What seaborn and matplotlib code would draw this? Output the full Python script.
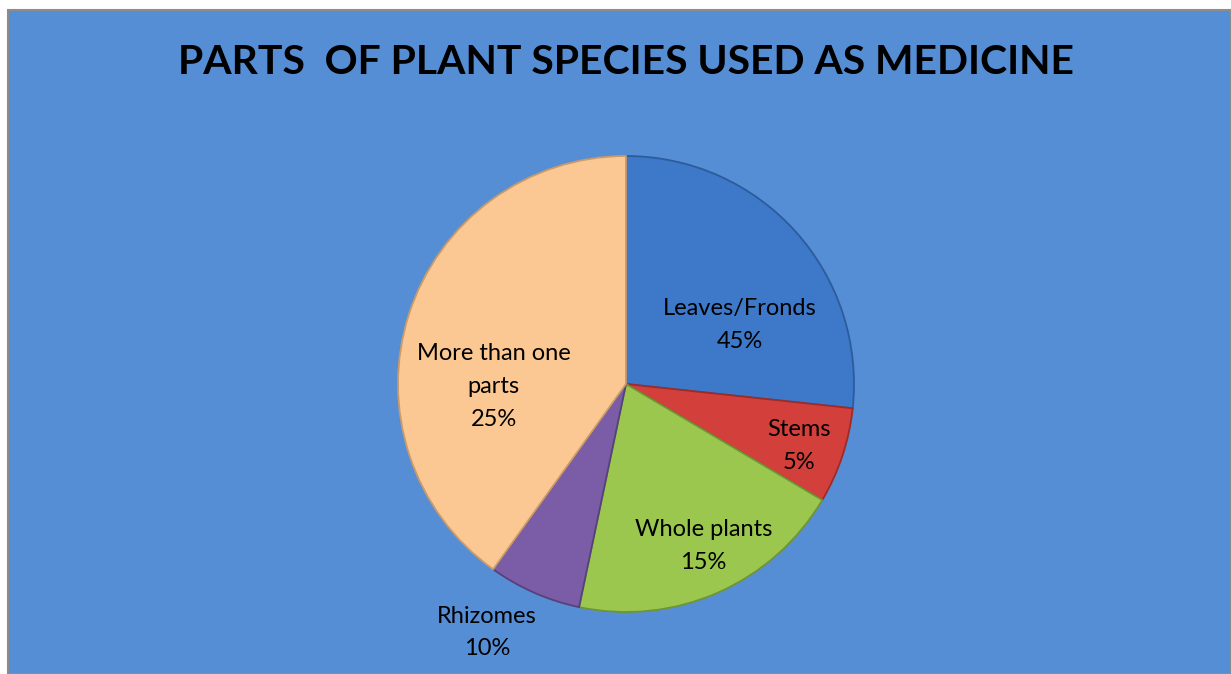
import matplotlib
matplotlib.use('Agg')
import matplotlib.pyplot as plt
import seaborn as sns
from matplotlib.patches import Rectangle

# Slice sizes as drawn in the picture (angles)
parts = ['Leaves/Fronds', 'Stems', 'Whole plants', 'Rhizomes', 'More than one\nparts']
slice_share = [26.7, 6.8, 19.8, 6.6, 40.1]
# Percentages printed on the labels (as they appear in the original)
label_pct = ['45%', '5%', '15%', '10%', '25%']
# Label positions in pie-radius units
label_pos = [(0.50, 0.26), (0.76, -0.27), (0.34, -0.71), (-0.61, -1.09), (-0.58, -0.01)]

colors = ['#3D78C9', '#D3403B', '#9BC74E', '#7A5DA6', '#FBC792']
edges = ['#2C5C9C', '#9E2B28', '#6F9434', '#57417A', '#C99A6A']

sns.set_theme(style='white')
plt.rcParams['font.family'] = ['Lato', 'DejaVu Sans']

fig = plt.figure(figsize=(12.31, 6.74), dpi=100)
fig.patch.set_facecolor('white')
fig.patches.append(Rectangle((8 / 1231, 0), 1 - 8 / 1231, 1 - 10 / 674,
                             transform=fig.transFigure, facecolor='#558ED5',
                             edgecolor='#8C8C8C', linewidth=1.5, zorder=-10))

fig.text(626 / 1231, 1 - 62 / 674, 'PARTS  OF PLANT SPECIES USED AS MEDICINE',
         ha='center', va='center', fontsize=29.4, fontweight='bold', color='black')

cx, cy, r = 626, 384, 228
ax = fig.add_axes([(cx - r) / 1231, (674 - cy - r) / 674, 2 * r / 1231, 2 * r / 674])
ax.set_zorder(5)
wedges, _ = ax.pie(slice_share, colors=colors, startangle=90, counterclock=False,
                   wedgeprops=dict(linewidth=1.3))
for w, ec in zip(wedges, edges):
    w.set_edgecolor(ec)
ax.set_xlim(-1, 1)
ax.set_ylim(-1, 1)
ax.set_aspect('auto')
ax.axis('off')

for name, pct, (x, y) in zip(parts, label_pct, label_pos):
    ax.text(x, y, f'{name}\n{pct}', ha='center', va='center', fontsize=17,
            color='black', linespacing=1.7, clip_on=False)

plt.savefig('out.png', dpi=100, facecolor=fig.get_facecolor())
